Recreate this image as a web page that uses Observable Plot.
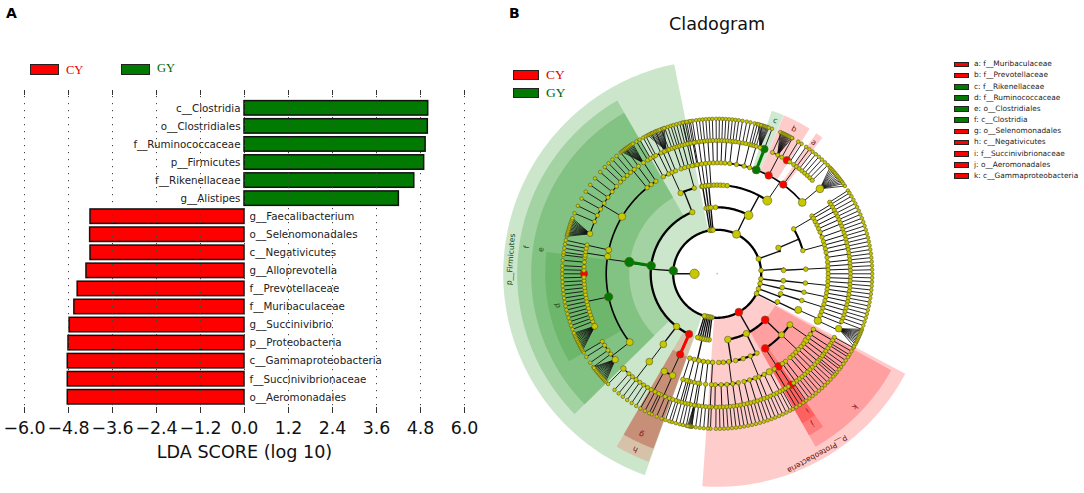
<!DOCTYPE html>
<html><head><meta charset="utf-8">
<script src="https://cdn.jsdelivr.net/npm/d3@7"></script>
<script src="https://cdn.jsdelivr.net/npm/@observablehq/plot@0.6"></script>
<style>
html,body{margin:0;padding:0;background:#fff;font-family:"DejaVu Sans",sans-serif}
#root{position:relative;width:1084px;height:493px;overflow:hidden}
.abs{position:absolute}
#root svg{position:absolute;background:transparent}
.sw{position:absolute;box-sizing:border-box;border:1.4px solid #222}
</style></head><body><div id="root"></div>
<script>
// ---------- Panel A data ----------
const taxa = ["c__Clostridia","o__Clostridiales","f__Ruminococcaceae","p__Firmicutes","f__Rikenellaceae","g__Alistipes","g__Faecalibacterium","o__Selenomonadales","c__Negativicutes","g__Alloprevotella","f__Prevotellaceae","f__Muribaculaceae","g__Succinivibrio","p__Proteobacteria","c__Gammaproteobacteria","f__Succinivibrionaceae","o__Aeromonadales"];
const ldaScores = [5.01,5.0,4.94,4.90,4.63,4.21,-4.2,-4.21,-4.2,-4.31,-4.55,-4.64,-4.77,-4.80,-4.82,-4.82,-4.82];
const tickValues = [-6,-4.8,-3.6,-2.4,-1.2,0,1.2,2.4,3.6,4.8,6];

// ---------- Panel B data: legend ----------
const keyLabels = ["a: f__Muribaculaceae","b: f__Prevotellaceae","c: f__Rikenellaceae","d: f__Ruminococcaceae","e: o__Clostridiales","f: c__Clostridia","g: o__Selenomonadales","h: c__Negativicutes","i: f__Succinivibrionaceae","j: o__Aeromonadales","k: c__Gammaproteobacteria"];
const keyColors = ["red","red","green","green","green","green","red","red","red","red","red"];

// ---------- Panel B data: clade shading [name, colour, inner radius, outer radius, start°, end°, opacity] ----------
const shades = [
 ["p__Firmicutes","#008000",44,214,199.8,348.4,.2],
 ["p__Proteobacteria","#ff0000",44,213,118,184,.2],
 ["f","#008000",66,200,225.5,330,.2],
 ["e","#008000",88,186,225.4,330,.2],
 ["d","#008000",110,172,239.4,277.3,.17],
 ["c","#008000",110,172,18.5,22.7,.18],
 ["b","#ff0000",110,172,22.8,32.5,.2],
 ["a","#ff0000",110,172,35.2,37.7,.2],
 ["h","#f0715a",66,200,200,210.2,.3],
 ["g","#a51c03",88,186,200,210.2,.3],
 ["k","#ff0000",66,199,119,150.4,.22],
 ["j","#ff0000",88,186,145.3,150.4,.22],
 ["i","#ff0000",110,172,145.3,150.4,.22]
];
const cladeText = ["p__Firmicutes","f","e","d","c","b","a","h","g","k","j","i","p__Proteobacteria"];
const cladeTextR = [207,192.6,178,163,164,164,163,193.7,177.7,191.7,177.6,163.7,206.8];
const cladeTextA = [274,278,277.8,258.7,20.8,27.9,36.3,205,205.3,134,147.6,146.6,151];
const cladeTextC = ["#124d12","#124d12","#124d12","#124d12","#124d12","#7a1010","#7a1010","#7a1010","#7a1010","#7a1010","#7a1010","#7a1010","#5a1010"];

// ---------- Panel B data: ring radius per level ----------
const ringR = {1:22.7,2:44,3:66.5,4:88.7,5:111,6:133.3,7:155};

// Each entry: parent angle followed by child angles (degrees clockwise from top).
const clades2 = [[270,26,274,150.5,70,85.6,96.6,103,110,116.6,187,189,191,193,195,197,350.5,352.5,354.5,386]];
const clades3 = [[26,-1.5,28.2],[274,205,217.6,277,338],[150.5,133.8,154,170.8],[70,67],[85.6,87],[96.6,96],[103,102],[110,107.5],[116.6,115],[187,187],[189,189],[191,191],[193,193],[195,195],[197,197],[350.5,350.5],[352.5,352.5],[354.5,354.5]];
const clades4 = [[28.2,-10,-8,-6,-4,-2,0,2,4,6.5,34.4],[193,183,186,189,192,195,198],[350.5,350.5],[352.5,352.5],[354.5,354.5],[205,204.7],[217.6,217.4],[277,277.6],[338,335.6,345],
 [133.8,125,133.5,147.2],[154,153.4,158,163,168],[170.8,172.5,176,179],[67,59.6,74.8],[87,87],[96,96],[102,102],[107.5,107.5],[115,114]];
const clades5 = [[34.4,-12,-10,-8,-6,-4,-2,0,2,4,6.5,10,14,17,20.6,27.6,36.5,50],[-10,-10],[-8,-8],[-6,-6],[-4,-4],
 [277.6,232,258,279,282.4,301,320.8,323.5,326.5],[335.6,331,334,336,338],[345,341,343,345,347,349.5],[217.4,217.7],[204.7,203.7,208.5],
 [125,120,123,125,127,129],[133.5,131,133,135,137,139],[147.2,142,144,146.5,149],[158,152,155,158,160,163,166],[172.5,169,172,175,178,181],
 [183,183],[186,186],[189,189],[192,190,192,194],[195,195],[198,196,198],
 [59.6,58.6,60,62,64,66,68,70.7],[74.8,73,75,77,79,81.5],[87,84,86,88,90,92],[96,94,96,98],[102,100,102,104],[107.5,106,108,110],[114,112,115]];
const clades6 = [[-12,-13,-12],[-10,-10.6,-9.2],[-8,-7.8,-6.6],[-6,-5.4],[-4,-4.2,-3],[-2,-1.8,-.4],[0,.8,2],[2,3.2],[4,4.4,5.6],[6.5,6.8,8],[10,9.4,11],[14,12.4,14,15],[17,16,17,18.7],[20.6,20.7],[27.6,24.5,27,29,31.5,33],[36.5,35,36.5,38,39.5,41,42.5,44,45.5],[50,50.4],
 [232,229.9,233,235,237.6,239.5],[258,246.8,249,250.5,252,253.5,255,256.5,258,259.5,261,262.5,264,265.5,267,268.5,270,271.5,273,275,277],[279,278,279.5],[282.4,281,282.5],[301,287.5,293,296,299,302,305,308,311],[320.8,313.5,315.5,317.5,319.5,321.5],[326.5,326.4],[323.5,323.8],
 [331,328.6,330,331.5],[334,332.6,335],[336,337.5,336.6],[338,338.8,340.2],[341,341.4,342.6],[343,343.6],[345,344.8,346],[347,347.2],[349.5,348.6,350],
 [217.7,209.7,211.5,213.5,215.5,217.5,219.5,221.5,224.7],[203.7,201,203,205],[208.5,206,207.8],
 [120,118.5,120,121.5],[123,122.5,124],[125,125.5,127],[127,128,129.5],[129,130.5],[131,131.5],[133,133],[135,134.5,136],[137,137.5],[139,139,140.5],[142,142,143.5],[144,145],[146.5,146.3,147.8],[149,149.3,150.8],[152,152,153.5],[155,155,156.5],[158,158],[160,159.5,161],[163,162.5,164],[166,165.5,167],[169,168.5,170],[172,171.5,173],[175,174.5,176],[178,177.5,179],[181,180.5,182.5],
 [183,183.5],[186,185,186.5],[189,188,189.5],[190,190],[192,191.5,192.8],[194,194],[195,195.5],[196,197],[198,198,199.5],
 [58.6,57.5,58.6],[60,60],[62,61.5,63],[64,64.5],[66,66],[68,67.5,69],[70.7,70.5],[73,72,73.5],[75,75],[77,76.5,78],[79,79.5],[81.5,81,82.5],[84,84],[86,85.5,87],[88,88.5],[90,90],[92,91.5,93],[94,94.5],[96,96],[98,97.5,99],[100,100.5],[102,102],[104,103.5,105],[106,106.5],[108,108],[110,109.5],[112,111],[115,114.3]];
// Dense species fans: parent genus angle followed by its species angles.
const fans = [
 [287.5,284,284.5,285,285.6,286.2,286.8,287.4,288,288.6,289.2,289.8,290.4,291],
 [246.8,240.4,241,241.6,242.2,242.8,243.4,244,244.6,245.2,245.8,246.4,247,247.5],
 [229.9,226,226.6,227.2,227.8,228.4,229,229.6,230.2,230.8,231.4,232,232.6,233],
 [326.4,322,322.5,323,323.5,324,324.5,325,325.5,326,326.5,327],
 [337.5,333.4,334,334.6,335.2,335.8,336.4,337,337.6,338.2,338.8,339.4,340],
 [27,24,24.5,25,25.4,25.8,26.2,26.6,27,27.4,27.8,28.3,28.8],
 [18.7,15.5,16,16.5,17,17.5,18,18.5,19,19.5],
 [50.4,46.7,47.4,48.1,48.8,49.5,50.2,50.9,51.6,52.3,53,53.7,54.4,55.5],
 [114.3,111,111.6,112.2,112.8,113.4,114,114.6,115.2,115.8,116.4,117,118],
 [190,189.4,189.7,190,190.3,190.6,191]
];
// Coloured and larger nodes: [level, angle, colour, radius]
const biomarkers = [[2,274,"#007a00",4.3],[3,277,"#007a00",4.3],[4,277.6,"#007a00",4.7],[5,258,"#007a00",4.2],[5,20.6,"#007a00",4],[6,20.7,"#007a00",3.8],
 [2,150.5,"#ff0000",3.9],[3,133.8,"#ff0000",3.9],[4,147.2,"#ff0000",3.8],[5,146.5,"#ff0000",3.8],[6,146.3,"#ff0000",3.7],[3,205,"#ff0000",3.7],[4,204.7,"#ff0000",3.7],[5,27.6,"#ff0000",3.7],[5,36.5,"#ff0000",3.7],[6,31.5,"#ff0000",3.7],[6,270,"#ff0000",3.7]];
const bigNodes = [[1,270,4.7],[2,26,4],[3,28.2,4.3],[4,34.4,4.5],[5,50,3.9],[6,50.4,3.9],[5,301,3.7],[5,232,3.5],[6,224.7,2.8],[3,338,2.7],[3,217.6,3.2],[4,217.4,3.4],[5,217.7,3.4],[6,229.9,3.2],[6,246.8,3],[6,287.5,2.8],[3,154,3.2],[3,170.8,3.3],[4,133.5,3],[4,125,3],[5,127,3],[5,115,3.7],[6,114.3,3.3],[4,114,3.5],[5,152,3.2],[3,67,2.7],[5,279,3.1],[5,282.4,3],[4,335.6,2.7],[2,70,2.6],[5,208.5,3.3],[5,203.7,3.3]];

// ---------- helpers ----------
const rad = d => d*Math.PI/180;
const px = (r,a) => r*Math.sin(rad(a));
const py = (r,a) => r*Math.cos(rad(a));
const root = document.getElementById("root");
function place(el,x,y){el.style.left=x+"px";el.style.top=y+"px";root.appendChild(el);return el;}
function html(text,x,y,css){const d=document.createElement("div");d.className="abs";d.textContent=text;d.style.cssText+=";white-space:nowrap;"+css;return place(d,x,y);}
function swatch(x,y,w,h,c){const d=document.createElement("div");d.className="sw";d.style.width=w+"px";d.style.height=h+"px";d.style.background=c;return place(d,x,y);}

// ---------- Panel A ----------
const barRows = taxa.map((t,i)=>({t,v:ldaScores[i]}));
const labelFont = {fontFamily:"DejaVu Sans",fontSize:10.3,fill:"#222"};
const panelA = Plot.plot({
  width:490,height:493,marginLeft:24,marginRight:26,marginTop:97,marginBottom:85.4,
  style:{background:"transparent",overflow:"visible"},
  x:{domain:[-6,6]},
  y:{type:"band",domain:taxa,padding:.2,round:false,axis:null},
  marks:[
    Plot.barX(barRows,{x:"v",y:"t",fill:d=>d.v>0?"#007a00":"#ff0000",stroke:"#111",strokeWidth:1.5}),
    Plot.ruleX(tickValues,{stroke:"#444",strokeWidth:1,strokeDasharray:"1.2,5.8",insetTop:-1,insetBottom:0}),
    Plot.tickX(tickValues,{x:d=>d,stroke:"#333",strokeWidth:1,insetTop:-7,insetBottom:312.6}),
    Plot.tickX(tickValues,{x:d=>d,stroke:"#333",strokeWidth:1,insetTop:310,insetBottom:-5.4}),
    Plot.text(barRows.filter(d=>d.v>0),{x:0,y:"t",text:"t",textAnchor:"end",dx:-4,...labelFont}),
    Plot.text(barRows.filter(d=>d.v<0),{x:0,y:"t",text:"t",textAnchor:"start",dx:5,...labelFont}),
    Plot.axisX({ticks:tickValues,tickSize:0,tickPadding:13.4,fontSize:17.4,fontFamily:"DejaVu Sans",fill:"#111",
      tickFormat:d=>d.toFixed(1).replace("-","\u2212"),label:"LDA SCORE (log 10)",labelAnchor:"center",labelArrow:"none",labelOffset:49.4})
  ]
});
panelA.style.left="0px";panelA.style.top="0px";root.appendChild(panelA);
d3.select(panelA).selectAll("[aria-label='x-axis label'] text, [aria-label='x-axis label']").style("font-size","17.6px").style("font-family","DejaVu Sans");

// ---------- Panel B ----------
const arcs=[], spokes=[], nodes=[], seen=new Set();
const addNode=(l,a,r,c)=>{const k=l+":"+((a%360+360)%360).toFixed(2);if(seen.has(k))return;seen.add(k);nodes.push({x:px(ringR[l],a),y:py(ringR[l],a),r,c});};
const levels=[[2,clades2],[3,clades3],[4,clades4],[5,clades5],[6,clades6]];
const smallR={2:2.4,3:2.4,4:2.3,5:2.2,6:2.1,7:1.8};
const arcW={2:2.3,3:2.3,4:2.1,5:1.6,6:1.1};
let aid=0;
const bigKey=new Map(bigNodes.map(d=>[d[0]+":"+d[1],d[2]]));
const bioKey=new Map(biomarkers.map(d=>[d[0]+":"+d[1],d]));
const fanParents=new Set(fans.map(f=>f[0]));
const nodePoint=(l,a)=>{
  const k=l+":"+a;
  if(bioKey.has(k)){const b=bioKey.get(k);return [l,a,b[3],b[2]];}
  return [l,a,bigKey.get(k)||smallR[l],"#c8c800"];
};
const late=[];
for(const [lev,list] of levels){
  for(const row of list){
    const [p,...kids]=row;
    spokes.push({id:aid,x:px(ringR[lev-1],p),y:py(ringR[lev-1],p),w:lev<5?1.4:1});
    spokes.push({id:aid++,x:px(ringR[lev],p),y:py(ringR[lev],p),w:lev<5?1.4:1});
    const lo=Math.min(p,...kids),hi=Math.max(p,...kids);
    if(hi>lo){for(let a=lo;;a+=1){const t=Math.min(a,hi);arcs.push({id:aid,x:px(ringR[lev],t),y:py(ringR[lev],t),w:arcW[lev]});if(t>=hi)break;}aid++;}
    for(const k of kids){
      late.push(nodePoint(lev,k));
      if(lev===6 && !fanParents.has(k)){
        spokes.push({id:aid,x:px(ringR[6],k),y:py(ringR[6],k),w:.9});
        spokes.push({id:aid++,x:px(ringR[7],k),y:py(ringR[7],k),w:.9});
        late.push(nodePoint(7,k));
      }
    }
  }
}
late.push(nodePoint(1,270));
for(const f of fans){
  const [p,...kids]=f;
  for(const k of kids){
    spokes.push({id:aid,x:px(ringR[6],p),y:py(ringR[6],p),w:.8});
    spokes.push({id:aid++,x:px(ringR[7],k),y:py(ringR[7],k),w:.8});
    late.push(nodePoint(7,k));
  }
}
for(const n of late.sort((a,b)=>b[0]-a[0])) addNode(n[0],n[1],n[2],n[3]);
const hiEdges=[[3,277,4,277.6,"#007a00"],[5,20.6,6,20.7,"#007a00"],[3,205,4,204.7,"#ff0000"]];
const hiRows=hiEdges.flatMap((e,i)=>[{id:i,x:px(ringR[e[0]],e[1]),y:py(ringR[e[0]],e[1]),c:e[4]},{id:i,x:px(ringR[e[2]],e[3]),y:py(ringR[e[2]],e[3]),c:e[4]}]);

const wedgeMarks=shades.map(s=>{
  const [,col,r0,r1,a0,a1,op]=s, pts=[];
  for(let a=a0;a<a1;a+=1)pts.push({x:px(r1,a),y:py(r1,a)});
  pts.push({x:px(r1,a1),y:py(r1,a1)});
  for(let a=a1;a>a0;a-=1)pts.push({x:px(r0,a),y:py(r0,a)});
  pts.push({x:px(r0,a0),y:py(r0,a0)});
  return Plot.line(pts,{x:"x",y:"y",fill:col,fillOpacity:op,stroke:"none"});
});
const cladeRows=cladeText.map((t,i)=>({t,x:px(cladeTextR[i],cladeTextA[i]),y:py(cladeTextR[i],cladeTextA[i]),a:cladeTextA[i],c:cladeTextC[i]}));
const panelB=Plot.plot({
  width:584,height:493,margin:0,
  style:{background:"transparent"},
  x:{domain:[-216.7,367.3],range:[0,584],axis:null},
  y:{domain:[273.3,-219.7],range:[0,493],axis:null},
  r:{type:"identity"},
  marks:[
    ...wedgeMarks,
    Plot.line(spokes,{x:"x",y:"y",z:"id",stroke:"#111",strokeWidth:"w"}),
    Plot.line(arcs,{x:"x",y:"y",z:"id",stroke:"#000",strokeWidth:"w"}),
    Plot.line(hiRows,{x:"x",y:"y",z:"id",stroke:"c",strokeWidth:3}),
    Plot.dot(nodes,{x:"x",y:"y",r:"r",fill:"c",stroke:"#5a5a20",strokeWidth:.6}),
    Plot.dot([{x:0,y:0}],{x:"x",y:"y",r:.8,fill:"#aaa"}),
    Plot.text(cladeRows,{x:"x",y:"y",text:"t",rotate:"a",fill:"c",fontSize:7.6,fontFamily:"DejaVu Sans"})
  ]
});
panelB.style.left="500px";panelB.style.top="0px";root.appendChild(panelB);

// ---------- Surrounding text and legends ----------
html("A",6,5,"font:bold 14px 'DejaVu Sans';color:#000");
html("B",509,5,"font:bold 14px 'DejaVu Sans';color:#000");
html("Cladogram",669,14,"font:17.6px 'DejaVu Sans';color:#111");
swatch(30,64,29,11,"#ff0000"); html("CY",66,63,"font:12.5px 'Liberation Serif';color:#e00000");
swatch(121,64,29,11,"#007a00"); html("GY",157,61,"font:12.5px 'Liberation Serif';color:#006400");
swatch(513,70,26,10,"#ff0000"); html("CY",546,67,"font:13.5px 'Liberation Serif';color:#e00000");
swatch(513,88,26,10,"#007a00"); html("GY",546,85,"font:13.5px 'Liberation Serif';color:#006400");
keyLabels.forEach((t,i)=>{
  const y=64.3+i*11.17;
  swatch(953.5,y-2.8,15,5.8,keyColors[i]==="red"?"#ff0000":"#007a00");
  html(t,974,y-5,"font:7.4px/10px 'DejaVu Sans';color:#222");
});
</script></body></html>
